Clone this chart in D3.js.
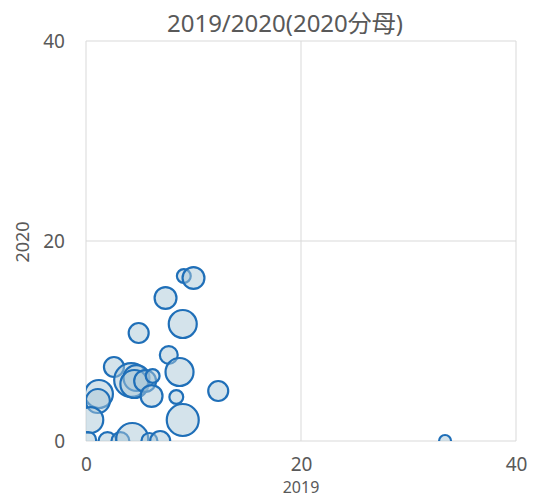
<!DOCTYPE html>
<html>
<head>
<meta charset="utf-8">
<script src="https://cdn.jsdelivr.net/npm/d3@7"></script>
<style>
  body { margin: 0; background: #fff; }
  text { font-family: "Noto Sans", "Noto Sans CJK JP", sans-serif; fill: #595959; }
</style>
</head>
<body>
<svg id="chart"></svg>
<script>
// bubble values: x = 2019, y = 2020, z = bubble size
const xVals = [9.1, 10.0, 7.4, 9.0, 4.9, 7.7, 8.7, 2.6, 4.2, 4.7, 4.5, 5.5, 6.2, 6.1, 8.4, 12.3, 9.0, 1.2, 1.1, 0.4, 2.0, 3.2, 4.3, 5.9, 6.9, 0.2, 33.4];
const yVals = [16.5, 16.3, 14.3, 11.7, 10.8, 8.6, 6.9, 7.4, 6.1, 6.3, 5.7, 6.0, 6.5, 4.5, 4.4, 5.0, 2.1, 4.7, 4.0, 2.1, 0, 0, 0.2, 0, 0, 0.1, 0];
const zVals = [12, 30, 30, 49, 25, 20, 49, 25, 72, 42, 49, 30, 12, 30, 12, 25, 64, 49, 36, 42, 20, 20, 64, 16, 25, 16, 9];
const ticks = [0, 20, 40];
const title = '2019/2020(2020分母)';

const w = 539, h = 497;
const padL = 86, padR = 516, padT = 41, padB = 441;

const svg = d3.select('#chart').attr('width', w).attr('height', h);

const xScale = d3.scaleLinear().domain([0, 40]).range([padL, padR]);
const yScale = d3.scaleLinear().domain([0, 40]).range([padB, padT]);
const rScale = d3.scaleSqrt().domain([0, 100]).range([0, 20]);

const data = xVals.map((x, i) => ({x: x, y: yVals[i], z: zVals[i]}));

// gridlines + frame
const grid = svg.append('g').attr('stroke', '#d9d9d9').attr('stroke-width', 1);
ticks.forEach(t => {
  grid.append('line').attr('x1', xScale(t)).attr('x2', xScale(t)).attr('y1', padT).attr('y2', padB);
  grid.append('line').attr('x1', padL).attr('x2', padR).attr('y1', yScale(t)).attr('y2', yScale(t));
});

svg.append('clipPath').attr('id', 'clip')
  .append('rect').attr('x', padL).attr('y', padT).attr('width', padR - padL).attr('height', padB - padT);

svg.append('g').attr('clip-path', 'url(#clip)')
  .selectAll('circle')
  .data(data)
  .enter()
  .append('circle')
  .attr('cx', d => xScale(d.x))
  .attr('cy', d => yScale(d.y))
  .attr('r', d => rScale(d.z))
  .attr('fill', 'rgba(170,200,215,0.5)')
  .attr('stroke', '#1f6fb8')
  .attr('stroke-width', 2.2);

// axes
const xAxis = d3.axisBottom(xScale).tickValues(ticks).tickSize(0).tickPadding(17);
svg.append('g').attr('transform', `translate(0,${padB})`).call(xAxis)
  .call(g => g.select('.domain').remove())
  .selectAll('text').style('font-size', '19px').attr('fill', '#595959');

const yAxis = d3.axisLeft(yScale).tickValues(ticks).tickSize(0).tickPadding(21);
svg.append('g').attr('transform', `translate(${padL},0)`).call(yAxis)
  .call(g => g.select('.domain').remove())
  .selectAll('text').style('font-size', '19px').attr('fill', '#595959');

svg.append('text').attr('x', 285).attr('y', 32).attr('text-anchor', 'middle')
  .style('font-size', '24px').text(title);

svg.append('text').attr('x', 301).attr('y', 493).attr('text-anchor', 'middle')
  .style('font-size', '16px').text('2019');

svg.append('text').attr('transform', 'translate(29,242) rotate(-90)').attr('text-anchor', 'middle')
  .style('font-size', '18px').text('2020');
</script>
</body>
</html>
